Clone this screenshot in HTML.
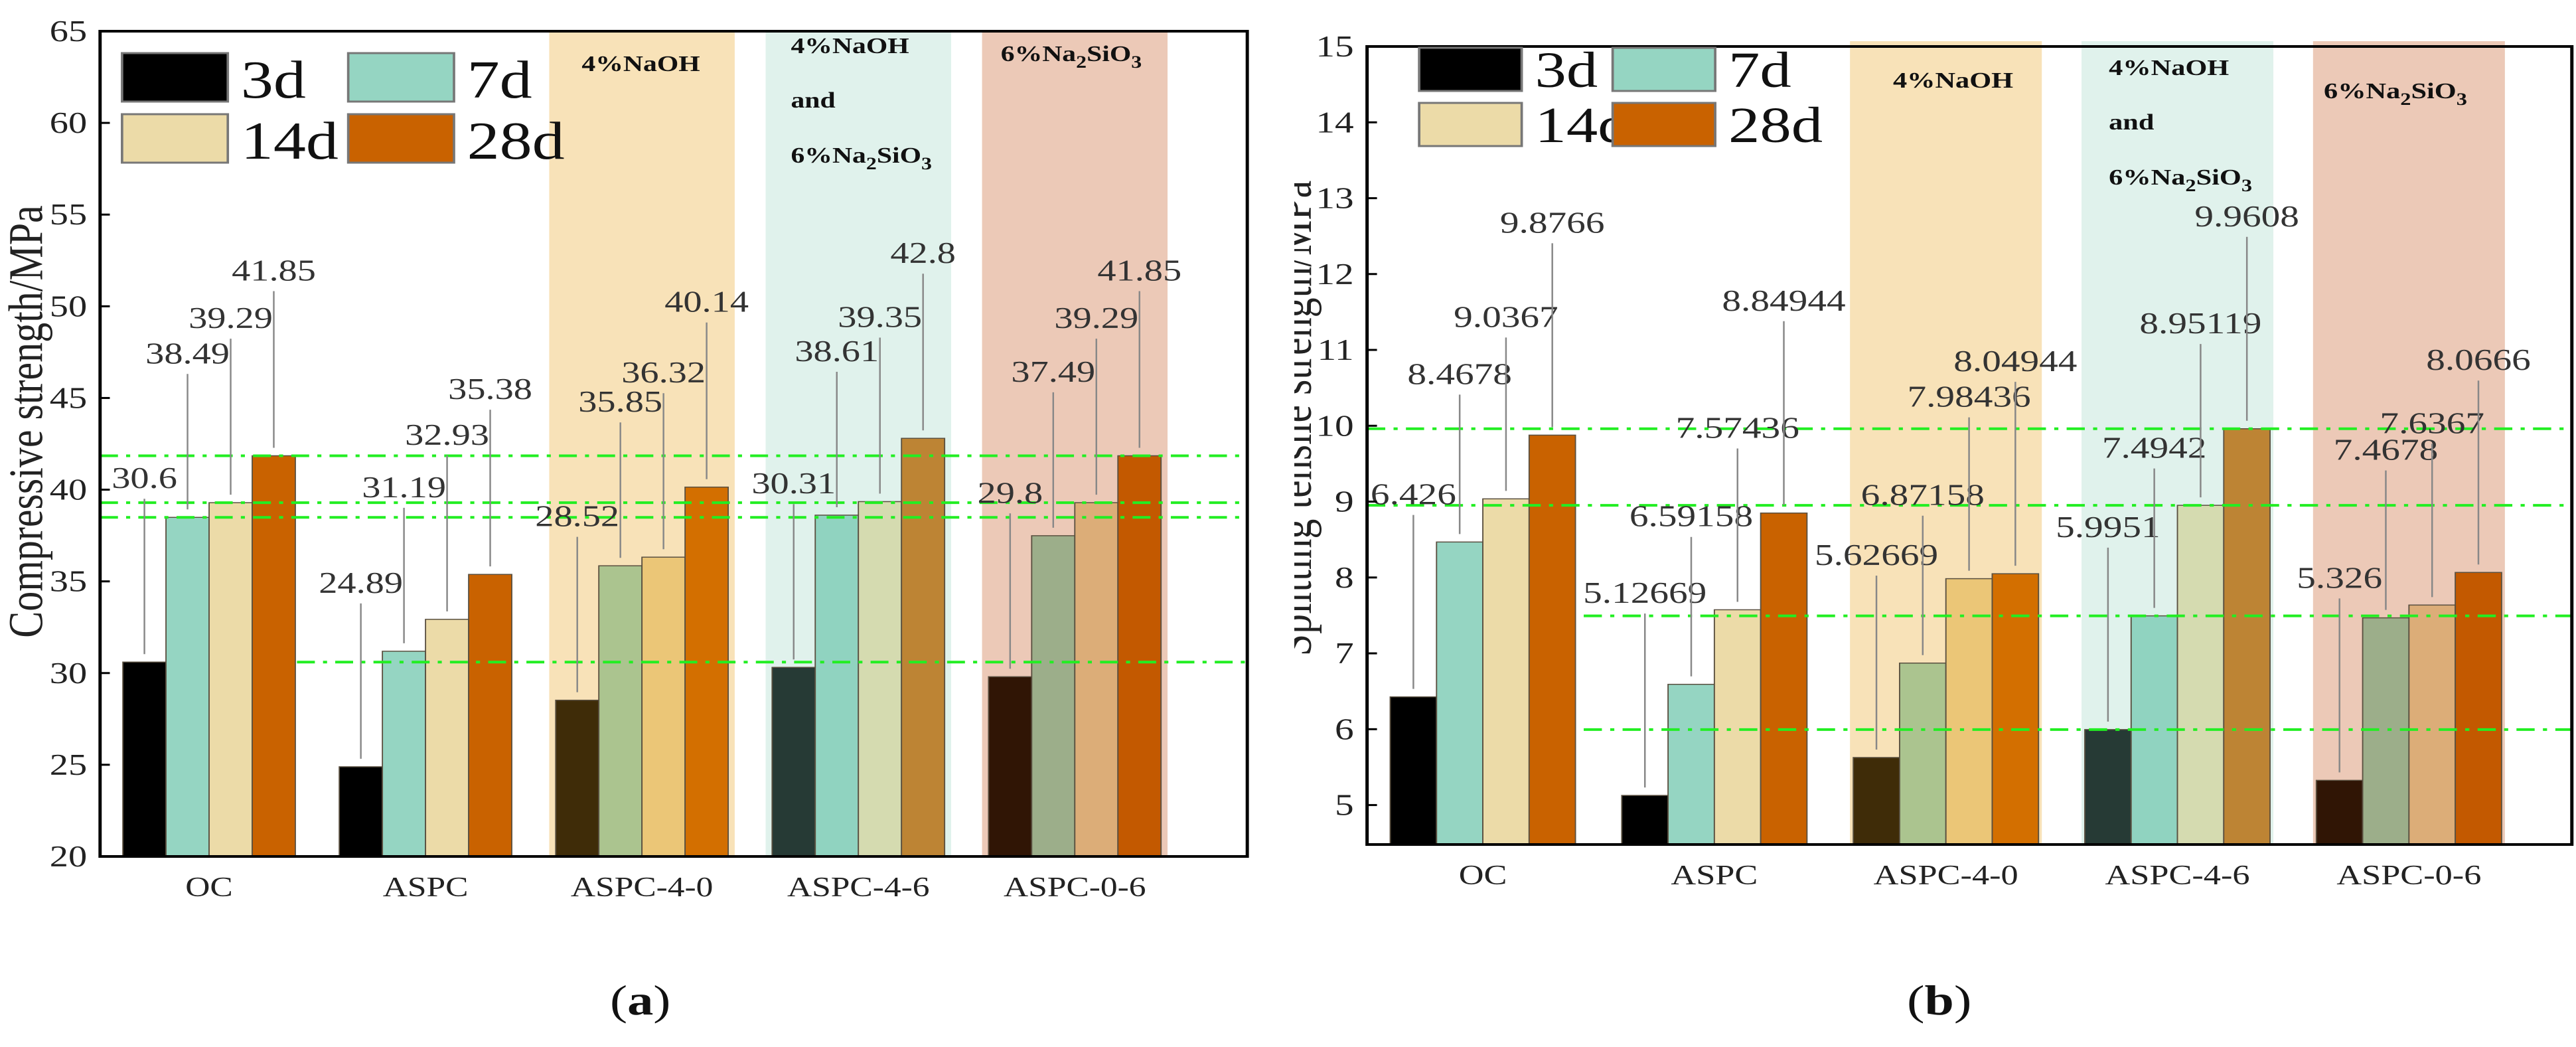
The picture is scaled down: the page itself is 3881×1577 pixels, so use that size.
<!DOCTYPE html>
<html><head><meta charset="utf-8">
<style>
html,body{margin:0;padding:0;background:#fff;width:3881px;height:1577px;overflow:hidden}
svg{position:absolute;top:0;font-family:"Liberation Serif","Times New Roman",serif}
svg text{font-family:"Liberation Serif","Times New Roman",serif}
</style></head>
<body>
<svg id="chartA" font-family="Liberation Serif, serif" style="left:0;width:1900px;height:1577px" viewBox="0 0 1550 1577" preserveAspectRatio="none"></svg>
<svg id="chartB" font-family="Liberation Serif, serif" style="left:1950px;width:1931px;height:1577px" viewBox="0 0 1550 1577" preserveAspectRatio="none"></svg>
<script>
const categories = ["OC","ASPC","ASPC-4-0","ASPC-4-6","ASPC-0-6"];
const seriesNames = ["3d","7d","14d","28d"];
const compValues = [
  [30.6,38.49,39.29,41.85],
  [24.89,31.19,32.93,35.38],
  [28.52,35.85,36.32,40.14],
  [30.31,38.61,39.35,42.8],
  [29.8,37.49,39.29,41.85]
];
const compLabels = [
  ["30.6","38.49","39.29","41.85"],
  ["24.89","31.19","32.93","35.38"],
  ["28.52","35.85","36.32","40.14"],
  ["30.31","38.61","39.35","42.8"],
  ["29.8","37.49","39.29","41.85"]
];
const compTicks = [20,25,30,35,40,45,50,55,60,65];
const compRefLines = [41.85,39.29,38.49,30.6];
const tensValues = [
  [6.426,8.4678,9.0367,9.8766],
  [5.12669,6.59158,7.57436,8.84944],
  [5.62669,6.87158,7.98436,8.04944],
  [5.9951,7.4942,8.95119,9.9608],
  [5.326,7.4678,7.6367,8.0666]
];
const tensLabels = [
  ["6.426","8.4678","9.0367","9.8766"],
  ["5.12669","6.59158","7.57436","8.84944"],
  ["5.62669","6.87158","7.98436","8.04944"],
  ["5.9951","7.4942","8.95119","9.9608"],
  ["5.326","7.4678","7.6367","8.0666"]
];
const tensTicks = [5,6,7,8,9,10,11,12,13,14,15];
const tensRefLines = [9.9608,8.95119,7.4942,5.9951];

const barColors = [
  ["#000000","#95d5c2","#ecdba8","#c96200"],
  ["#000000","#95d5c2","#ecdba8","#c96200"],
  ["#3f2c08","#abc48f","#ebc677","#d36f00"],
  ["#263a35","#90d3c0","#d5dbb0","#bd8434"],
  ["#301505","#9cae8a","#dcad78","#c35900"]
];
const NS="http://www.w3.org/2000/svg";
const FF="Liberation Serif, Times New Roman, serif";
function mk(parent,tag,attrs,txt){const e=document.createElementNS(NS,tag);for(const k in attrs)e.setAttribute(k,attrs[k]);if(tag==='text')e.setAttribute('font-family',FF);if(txt!==undefined)e.textContent=txt;parent.appendChild(e);return e;}

function build(svg,cfg,values,labels,ticks,refLines){
  const {x0,x1,y0,y1,vmin,vmax,c0,step,bw,band,bandTop,offs,refStart}=cfg;
  const Y=v=>y1-(v-vmin)/(vmax-vmin)*(y1-y0);
  const CX=i=>c0+step*i;
  const bandCols=[null,null,"#f8e2b8","#e0f2ec","#ecc9b7"];
  for(let i=2;i<5;i++){
    const r=mk(svg,'rect',{x:CX(i)-band,y:bandTop,width:band*2,height:y1-bandTop,fill:bandCols[i]});
    
    
  }
  const an=cfg.ann;
  function ann(x,y,parts,name){
    const t=mk(svg,'text',{x:x,y:y,'font-size':34,'font-weight':'bold',fill:'#111'});
    
    
    parts.forEach(p=>{mk(t,'tspan',p.sub?{'font-size':26,dy:p.dy}:{dy:p.dy||0},p.t);});
  }
  const na2=[{t:"6%Na"},{t:"2",sub:1,dy:10},{t:"SiO",dy:-10},{t:"3",sub:1,dy:10}];
  ann(an[0][0],an[0][1],[{t:"4%NaOH"}],'annotation-naoh');
  ann(an[1][0],an[1][1],[{t:"4%NaOH"}],'annotation-mixed-naoh');
  ann(an[1][0],an[1][1]+82,[{t:"and"}],'annotation-mixed-and');
  ann(an[1][0],an[1][1]+165,na2,'annotation-mixed-silicate');
  ann(an[2][0],an[2][1],na2,'annotation-silicate');
  for(let i=0;i<5;i++){
    for(let s=0;s<4;s++){
      const v=values[i][s];
      const bx=CX(i)-2*bw+s*bw;
      const r=mk(svg,'rect',{x:bx,y:Y(v),width:bw,height:y1-Y(v),fill:barColors[i][s],stroke:'#5a5040','stroke-width':1.5});
      
      
    }
  }
  refLines.forEach((v,k)=>{
    const l=mk(svg,'line',{x1:refStart[k],x2:x1,y1:Y(v),y2:Y(v),stroke:'#22ee22','stroke-width':4,'stroke-dasharray':'22 10 5 10'});
    
    
  });
  for(let i=0;i<5;i++){
    for(let s=0;s<4;s++){
      const v=values[i][s];
      const bcx=CX(i)-2*bw+s*bw+bw/2;
      const ly=Y(v)-offs[s];
      const ln=mk(svg,'line',{x1:bcx,x2:bcx,y1:ly+16,y2:Y(v)-12,stroke:'#888','stroke-width':2});
      
      
      const t=mk(svg,'text',{x:bcx,y:ly,'font-size':46,'text-anchor':'middle',fill:'#333'},labels[i][s]);
      
      
    }
  }
  const bx=mk(svg,'rect',{x:x0,y:y0,width:x1-x0,height:y1-y0,fill:'none',stroke:'#000','stroke-width':4});
  
  
  ticks.forEach(v=>{
    if(v<vmin||v>vmax)return;
    mk(svg,'line',{x1:x0,x2:x0+12,y1:Y(v),y2:Y(v),stroke:'#000','stroke-width':3});
    const t=mk(svg,'text',{x:x0-16,y:Y(v)+15,'font-size':46,'text-anchor':'end',fill:'#222'},String(v));
    
    
  });
  categories.forEach((c,i)=>{
    const t=mk(svg,'text',{x:CX(i),y:y1+60,'font-size':42,'text-anchor':'middle',fill:'#222'},c);
    
    
  });
  const yt=mk(svg,'text',{x:0,y:0,'font-size':60,'text-anchor':'middle',fill:'#222',transform:`translate(${cfg.ytx},${cfg.yty}) rotate(-90)`},cfg.ytitle);
  
  
  const L=cfg.leg;
  const legCols=["#000000","#95d5c2","#ecdba8","#c96200"];
  const pos=[[0,0],[1,0],[0,1],[1,1]];
  seriesNames.forEach((n,s)=>{
    const lx=L.x+pos[s][0]*L.dx, ly=L.y+pos[s][1]*L.dy;
    const r=mk(svg,'rect',{x:lx,y:ly,width:L.w,height:L.h,fill:legCols[s],stroke:'#777','stroke-width':3});
    
    
    const t=mk(svg,'text',{x:lx+L.w+16,y:ly+L.h-6,'font-size':L.fs,fill:'#111'},n);
    
    
  });
  const p=mk(svg,'text',{x:cfg.px,y:1528,'font-size':64,'text-anchor':'middle',fill:'#111'});
  
  
  mk(p,'tspan',{},'(');mk(p,'tspan',{'font-weight':'bold'},cfg.panel);mk(p,'tspan',{},')');
}

build(document.getElementById('chartA'),{
  x0:123,x1:1533,y0:47,y1:1290,vmin:20,vmax:65,c0:257,step:266,bw:53,band:114,bandTop:47,
  offs:[262,232,263,264],refStart:[123,123,123,365],
  ann:[[715,107],[972,80],[1230,92]],
  ytx:52,yty:635,ytitle:"Compressive strength/MPa",
  leg:{x:150,y:80,dx:278,dy:92,w:130,h:73,fs:80},px:787,panel:"a"
},compValues,compLabels,compTicks,compRefLines);

build(document.getElementById('chartB'),{
  x0:88,x1:1545,y0:70,y1:1272,vmin:4.48,vmax:15,c0:228,step:280,bw:56,band:116,bandTop:62,
  offs:[290,238,259,305],refStart:[88,88,350,350],
  ann:[[724,132],[985,113],[1245,148]],
  ytx:20,yty:630,ytitle:"Splitting tensile strength/MPa",
  leg:{x:151,y:72,dx:234,dy:83,w:124,h:65,fs:76},px:780,panel:"b"
},tensValues,tensLabels,tensTicks,tensRefLines);
</script>
</body></html>
